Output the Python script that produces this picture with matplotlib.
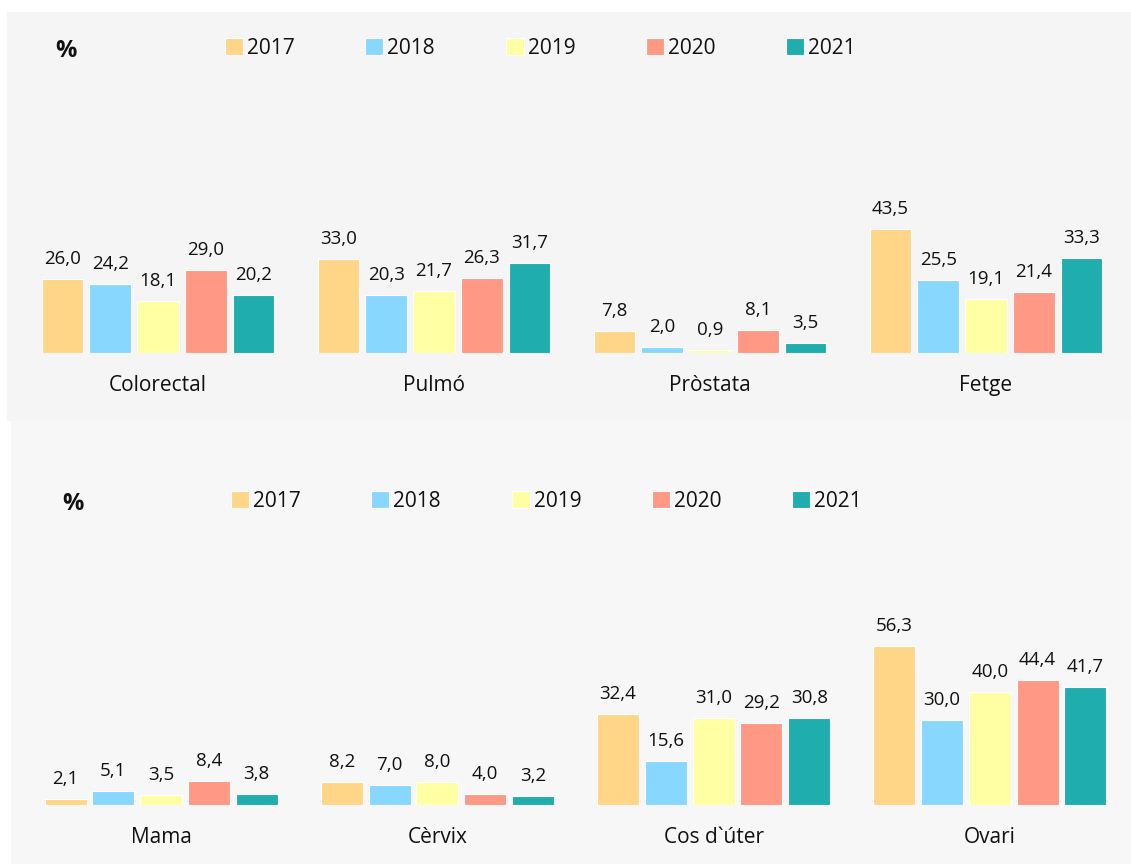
import matplotlib
matplotlib.use("Agg")
import matplotlib.pyplot as plt
from matplotlib.patches import Rectangle
import numpy as np

plt.rcParams['font.family'] = ['Open Sans', 'DejaVu Sans']

years = ["2017", "2018", "2019", "2020", "2021"]
colors = ["#FFD588", "#87D7FF", "#FFFFA3", "#FF9985", "#20ADAD"]

cats_top = ["Colorectal", "Pulmó", "Pròstata", "Fetge"]
top_2017 = [26.0, 33.0, 7.8, 43.5]
top_2018 = [24.2, 20.3, 2.0, 25.5]
top_2019 = [18.1, 21.7, 0.9, 19.1]
top_2020 = [29.0, 26.3, 8.1, 21.4]
top_2021 = [20.2, 31.7, 3.5, 33.3]

cats_bot = ["Mama", "Cèrvix", "Cos d`úter", "Ovari"]
bot_2017 = [2.1, 8.2, 32.4, 56.3]
bot_2018 = [5.1, 7.0, 15.6, 30.0]
bot_2019 = [3.5, 8.0, 31.0, 40.0]
bot_2020 = [8.4, 4.0, 29.2, 44.4]
bot_2021 = [3.8, 3.2, 30.8, 41.7]

W, H = 1131, 864
fig = plt.figure(figsize=(W / 100, H / 100), dpi=100)
fig.patch.set_facecolor("white")

def px_rect(x0, y0_top, w, h):
    return [x0 / W, (H - y0_top - h) / H, w / W, h / H]

# panel backgrounds
fig.patches.append(Rectangle((7 / W, (H - 421) / H), (W - 7) / W, (421 - 12) / H,
                             transform=fig.transFigure, facecolor="#F5F5F5",
                             edgecolor="none", zorder=-10))
fig.patches.append(Rectangle((11 / W, 0), (W - 11) / W, (H - 421) / H,
                             transform=fig.transFigure, facecolor="#F7F7F7",
                             edgecolor="none", zorder=-10))

def draw_panel(left_px, width_px, base_px, scale, cats, series, pct_x, pct_y, leg_x, leg_y):
    ymax = 60
    h = ymax * scale
    ax = fig.add_axes(px_rect(left_px, base_px - h, width_px, h))
    ax.set_facecolor("none")
    x = np.arange(len(cats))
    pitch = 0.173
    width = 0.152
    handles = []
    for j, (vals, col, yr) in enumerate(zip(series, colors, years)):
        xs = x + (j - 2) * pitch
        b = ax.bar(xs, vals, width=width, color=col, edgecolor="white",
                   linewidth=0.8, label=yr)
        handles.append(b)
        for xi, v in zip(xs, vals):
            ax.annotate(f"{v:.1f}".replace(".", ","), (xi, v),
                        xytext=(0, 11), textcoords="offset pixels",
                        ha="center", va="bottom", fontsize=13.5, color="#111111")
    ax.set_xlim(-0.5, len(cats) - 0.5)
    ax.set_ylim(0, ymax)
    ax.set_xticks(x)
    ax.set_xticklabels(cats, fontsize=15, color="#111111")
    ax.tick_params(axis="x", length=0, pad=16)
    ax.set_yticks([])
    for s in ax.spines.values():
        s.set_visible(False)
    fig.text(pct_x / W, 1 - pct_y / H, "%", fontsize=17, fontweight="bold",
             ha="center", va="center", color="#111111")
    leg = fig.legend(handles=handles, labels=years, loc="center left",
                     bbox_to_anchor=(leg_x / W, 1 - leg_y / H), ncol=5,
                     frameon=False, fontsize=15, handlelength=0.85,
                     handleheight=0.85, handletextpad=0.2, columnspacing=3.4,
                     borderpad=0, borderaxespad=0)
    for t in leg.get_texts():
        t.set_color("#111111")
    return ax

draw_panel(20, 1104, 353, 2.85, cats_top,
           [top_2017, top_2018, top_2019, top_2020, top_2021],
           66, 51, 225, 48)
draw_panel(23, 1105, 805, 2.82, cats_bot,
           [bot_2017, bot_2018, bot_2019, bot_2020, bot_2021],
           73, 504, 231, 501)

fig.savefig("out.png", dpi=100, facecolor=fig.get_facecolor())
